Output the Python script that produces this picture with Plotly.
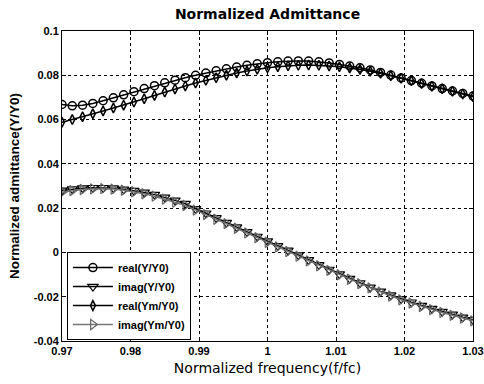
import plotly.graph_objects as go

freq = [0.9700, 0.9715, 0.9730, 0.9745, 0.9760, 0.9775, 0.9790, 0.9805, 0.9820, 0.9835,
        0.9850, 0.9865, 0.9880, 0.9895, 0.9910, 0.9925, 0.9940, 0.9955, 0.9970, 0.9985,
        1.0000, 1.0015, 1.0030, 1.0045, 1.0060, 1.0075, 1.0090, 1.0105, 1.0120, 1.0135,
        1.0150, 1.0165, 1.0180, 1.0195, 1.0210, 1.0225, 1.0240, 1.0255, 1.0270, 1.0285,
        1.0300]

real_Y = [0.0668, 0.0662, 0.0665, 0.0673, 0.0685, 0.0698, 0.0712, 0.0726, 0.0740, 0.0753,
          0.0766, 0.0778, 0.0789, 0.0800, 0.0810, 0.0820, 0.0829, 0.0837, 0.0845, 0.0852,
          0.0857, 0.0861, 0.0864, 0.0865, 0.0864, 0.0861, 0.0856, 0.0849, 0.0842, 0.0834,
          0.0824, 0.0813, 0.0801, 0.0788, 0.0776, 0.0764, 0.0752, 0.0740, 0.0729, 0.0718,
          0.0706]

imag_Y = [0.0280, 0.0286, 0.0290, 0.0292, 0.0292, 0.0290, 0.0285, 0.0279, 0.0271, 0.0261,
          0.0249, 0.0235, 0.0220, 0.0197, 0.0177, 0.0156, 0.0135, 0.0114, 0.0093, 0.0072,
          0.0051, 0.0030, 0.0009, -0.0012, -0.0034, -0.0056, -0.0077, -0.0098, -0.0118, -0.0138,
          -0.0158, -0.0176, -0.0193, -0.0210, -0.0225, -0.0240, -0.0254, -0.0267, -0.0280, -0.0293,
          -0.0305]

real_Ym = [0.0588, 0.0600, 0.0613, 0.0626, 0.0639, 0.0652, 0.0665, 0.0679, 0.0694, 0.0709,
           0.0724, 0.0738, 0.0752, 0.0765, 0.0777, 0.0789, 0.0800, 0.0810, 0.0819, 0.0827,
           0.0834, 0.0839, 0.0843, 0.0845, 0.0846, 0.0845, 0.0842, 0.0838, 0.0833, 0.0826,
           0.0818, 0.0809, 0.0798, 0.0787, 0.0775, 0.0763, 0.0751, 0.0739, 0.0728, 0.0716,
           0.0703]

imag_Ym = [0.0272, 0.0279, 0.0284, 0.0287, 0.0288, 0.0286, 0.0281, 0.0274, 0.0265, 0.0254,
           0.0241, 0.0227, 0.0212, 0.0191, 0.0171, 0.0150, 0.0130, 0.0109, 0.0088, 0.0067,
           0.0046, 0.0025, 0.0004, -0.0017, -0.0038, -0.0060, -0.0081, -0.0101, -0.0121, -0.0141,
           -0.0160, -0.0179, -0.0197, -0.0214, -0.0229, -0.0244, -0.0258, -0.0271, -0.0284, -0.0296,
           -0.0309]

x_ticks = [0.97, 0.98, 0.99, 1.0, 1.01, 1.02, 1.03]
x_tick_text = ["0.97", "0.98", "0.99", "1", "1.01", "1.02", "1.03"]
y_ticks = [-0.04, -0.02, 0, 0.02, 0.04, 0.06, 0.08, 0.1]
y_tick_text = ["-0.04", "-0.02", "0", "0.02", "0.04", "0.06", "0.08", "0.1"]

fig = go.Figure()
fig.add_trace(go.Scatter(x=freq, y=real_Y, name="real(Y/Y0)", mode="lines+markers",
                         line=dict(color="black", width=1.5),
                         marker=dict(symbol="circle-open", size=8, color="black", line=dict(width=1.5))))
fig.add_trace(go.Scatter(x=freq, y=imag_Y, name="imag(Y/Y0)", mode="lines+markers",
                         line=dict(color="black", width=1.5),
                         marker=dict(symbol="triangle-down-open", size=9, color="black", line=dict(width=1.2))))
fig.add_trace(go.Scatter(x=freq, y=real_Ym, name="real(Ym/Y0)", mode="lines+markers",
                         line=dict(color="black", width=1.5),
                         marker=dict(symbol="diamond-tall-open", size=7, color="black", line=dict(width=1.5))))
fig.add_trace(go.Scatter(x=freq, y=imag_Ym, name="imag(Ym/Y0)", mode="lines+markers",
                         line=dict(color="#777777", width=1.5),
                         marker=dict(symbol="triangle-right-open", size=9, color="#666666", line=dict(width=1.2))))

axis_common = dict(showline=True, linecolor="black", linewidth=1, mirror="ticks",
                   ticks="inside", ticklen=4, tickcolor="black",
                   showgrid=True, gridcolor="black", griddash="dot", gridwidth=1,
                   zeroline=False,
                   tickfont=dict(family="Liberation Sans", size=11, color="black", weight="bold"))

fig.update_xaxes(range=[0.97, 1.03], tickvals=x_ticks, ticktext=x_tick_text, automargin="bottom",
                 title=dict(text="Normalized frequency(f/fc)", standoff=6,
                            font=dict(family="DejaVu Sans", size=14, color="black")),
                 **axis_common)
fig.update_yaxes(range=[-0.04, 0.1], tickvals=y_ticks, ticktext=y_tick_text, automargin="left",
                 title=dict(text="Normalized admittance(Y/Y0)", standoff=10,
                            font=dict(family="Liberation Sans", size=13.5, color="black", weight="bold")),
                 **axis_common)

fig.update_layout(
    width=484, height=384,
    margin=dict(l=62, r=11, t=31, b=41),
    paper_bgcolor="white", plot_bgcolor="white",
    title=dict(text="<b>Normalized Admittance</b>", xref="paper", x=0.5, xanchor="center",
               y=0.963, yanchor="middle",
               font=dict(family="DejaVu Sans", size=14, color="black")),
    legend=dict(x=0.012, y=0.003, xanchor="left", yanchor="bottom",
                bgcolor="white", bordercolor="black", borderwidth=1,
                font=dict(family="Liberation Sans", size=11, color="black", weight="bold"),
                itemwidth=40, tracegroupgap=0),
    showlegend=True,
)

fig.write_html("out.html", config={"displayModeBar": False},
               post_script="document.body.style.margin='0';")
